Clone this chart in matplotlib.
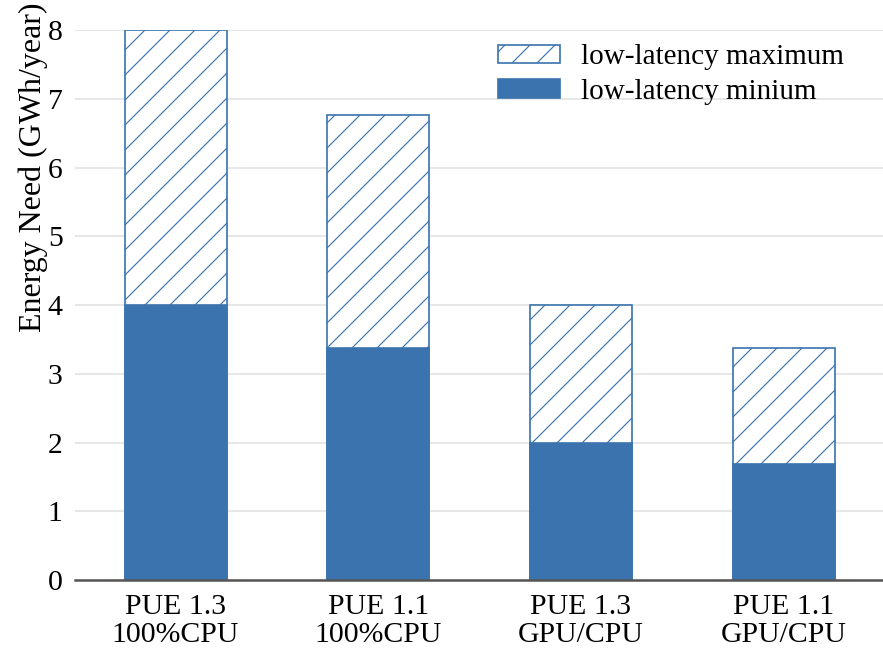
import matplotlib
matplotlib.use("Agg")
import matplotlib.pyplot as plt
import numpy as np

# data
categories = ["PUE 1.3\n100%CPU", "PUE 1.1\n100%CPU", "PUE 1.3\nGPU/CPU", "PUE 1.1\nGPU/CPU"]
latency_max = [8.0, 6.77, 4.0, 3.38]
latency_min = [4.0, 3.38, 2.0, 1.69]

blue = "#3a73ad"

plt.rcParams["font.family"] = ["Liberation Serif", "DejaVu Serif"]
plt.rcParams["hatch.linewidth"] = 0.55

DPI = 150
fig = plt.figure(figsize=(883 / DPI, 649 / DPI), dpi=DPI)
ax = fig.add_axes([75 / 883, 1 - 580 / 649, 1 - 75 / 883, (580 - 30) / 649])

x = np.arange(len(categories))
w = 0.503
ax.bar(x, latency_max, width=w, facecolor="white", edgecolor=blue,
       hatch="//", linewidth=0.8, label="low-latency maximum", zorder=3)
ax.bar(x, latency_min, width=w, color=blue, edgecolor=blue,
       linewidth=0.8, label="low-latency minium", zorder=4)

ax.set_xlim(-0.496, 3.49)
ax.set_ylim(0, 8)
ax.set_yticks(range(0, 9))
ax.set_xticks(x)
ax.set_xticklabels(categories, fontsize=14.3, linespacing=1.1)
ax.tick_params(axis="y", labelsize=14.3, length=0, pad=6)
ax.tick_params(axis="x", length=0, pad=6.5)

ax.yaxis.grid(True, color="#e3e3e3", linewidth=0.8, zorder=0)
ax.set_axisbelow(True)
for s in ["top", "right", "left"]:
    ax.spines[s].set_visible(False)
ax.spines["bottom"].set_color("#555555")
ax.spines["bottom"].set_linewidth(1.2)
ax.spines["bottom"].set_zorder(5)

ax.set_ylabel("Energy Need (GWh/year)", fontsize=15.3)
ax.yaxis.set_label_coords(-0.034, 0.751)

ax.legend(loc="upper left", bbox_to_anchor=(498 / 883, 1 - 44 / 649),
          bbox_transform=fig.transFigure, frameon=False, fontsize=14,
          handlelength=2.14, handleheight=0.59, handletextpad=0.69,
          labelspacing=0.3, borderpad=0, borderaxespad=0)

fig.savefig("out.png", dpi=DPI)
